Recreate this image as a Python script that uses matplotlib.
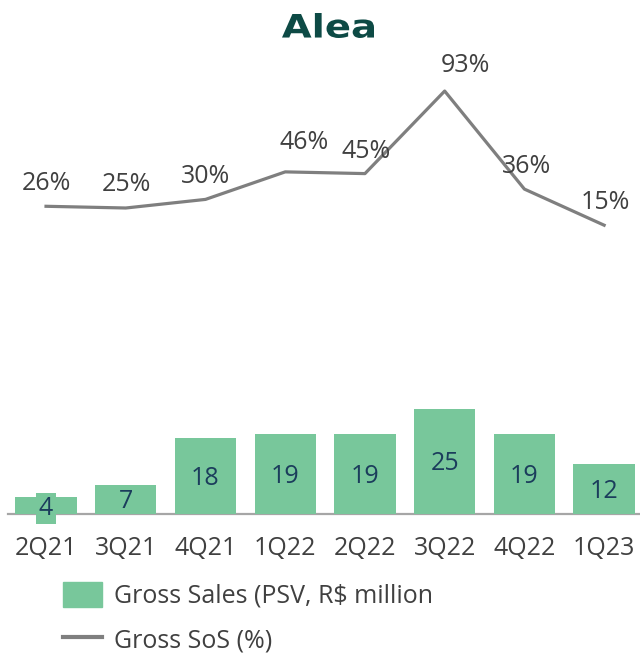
import matplotlib.pyplot as plt
from matplotlib.patches import Patch, PathPatch
from matplotlib.lines import Line2D
from matplotlib.textpath import TextPath
from matplotlib.font_manager import FontProperties
from matplotlib.transforms import Affine2D

quarters = ["2Q21", "3Q21", "4Q21", "1Q22", "2Q22", "3Q22", "4Q22", "1Q23"]
gross_sales = [4, 7, 18, 19, 19, 25, 19, 12]
gross_sos = [26, 25, 30, 46, 45, 93, 36, 15]
sos_labels = ["26%", "25%", "30%", "46%", "45%", "93%", "36%", "15%"]
# label baseline offsets (pixels) relative to each line point
lab_dx = [0, 1, 0, 19, 1, 21, 2, 1]
lab_dy = [16, 17, 16, 23, 16, 19, 16, 16]

bar_color = "#78c79b"
line_color = "#7f7f7f"
txt_color = "#404040"
num_color = "#1b3d5c"
font = "Open Sans"
fs = 18
px = 0.72  # pixels -> points at 100 dpi

fig = plt.figure(figsize=(6.4, 6.53), dpi=100)
W, H = 640, 653
ax = fig.add_axes([8 / W, 1 - 514 / H, 632 / W, 474 / H])
x = list(range(len(quarters)))

ax.bar(x, gross_sales, width=0.77, color=bar_color, zorder=2)
ax.set_ylim(0, 474 / 4.2)
ax.set_xlim(-0.477, 7.45)
cap = 0.714 * fs / px
for i, v in enumerate(gross_sales):
    kw = {}
    if v < 6:
        kw["bbox"] = dict(boxstyle="square,pad=0.12", fc=bar_color, ec="none")
    ax.annotate(str(v), (i, v / 2), xytext=(0, -cap / 2 * px), textcoords="offset points",
                ha="center", va="baseline", fontsize=fs, color=num_color,
                family=font, zorder=3, **kw)

for s in ["top", "right", "left"]:
    ax.spines[s].set_visible(False)
ax.spines["bottom"].set_color("#a6a6a6")
ax.spines["bottom"].set_linewidth(1.6)
ax.spines["bottom"].set_zorder(1)
ax.set_yticks([])
ax.set_xticks(x)
ax.set_xticklabels(quarters, fontsize=fs, color=txt_color, family=font)
ax.tick_params(axis="x", length=0, pad=15.5)

ax2 = ax.twinx()
ax2.plot(x, gross_sos, color=line_color, lw=2.3, zorder=3)
ax2.set_ylim(-263 / 1.72, 211 / 1.72)
ax2.set_yticks([])
for s in ax2.spines.values():
    s.set_visible(False)
for i, (v, lab) in enumerate(zip(gross_sos, sos_labels)):
    ax2.annotate(lab, (i, v), xytext=(lab_dx[i] * px, lab_dy[i] * px),
                 textcoords="offset points", ha="center", va="baseline",
                 fontsize=fs, color=txt_color, family=font)

# logo text, stretched a little to the wide logotype
tp = TextPath((0, 0), "Alea", size=1, prop=FontProperties(family="DejaVu Sans", weight="bold"))
bb = tp.get_extents()
sx, sy = 92 / bb.width, 25 / bb.height
tr = Affine2D().translate(-bb.x0, -bb.y0).scale(sx, sy).translate(282, H - 38)
fig.add_artist(PathPatch(tr.transform_path(tp), fc="#0d4a45", ec="none", transform=None))

handles = [Patch(color=bar_color), Line2D([], [], color=line_color, lw=3)]
fig.legend(handles, ["Gross Sales (PSV, R$ million", "Gross SoS (%)"],
           loc="upper left", bbox_to_anchor=(43 / W, 1 - 562 / H), frameon=False,
           prop={"family": font, "size": fs}, labelcolor=txt_color,
           handlelength=1.55, handleheight=1.15, labelspacing=0.72, handletextpad=0.5,
           borderpad=0.3)

fig.savefig("out.png", dpi=100)
